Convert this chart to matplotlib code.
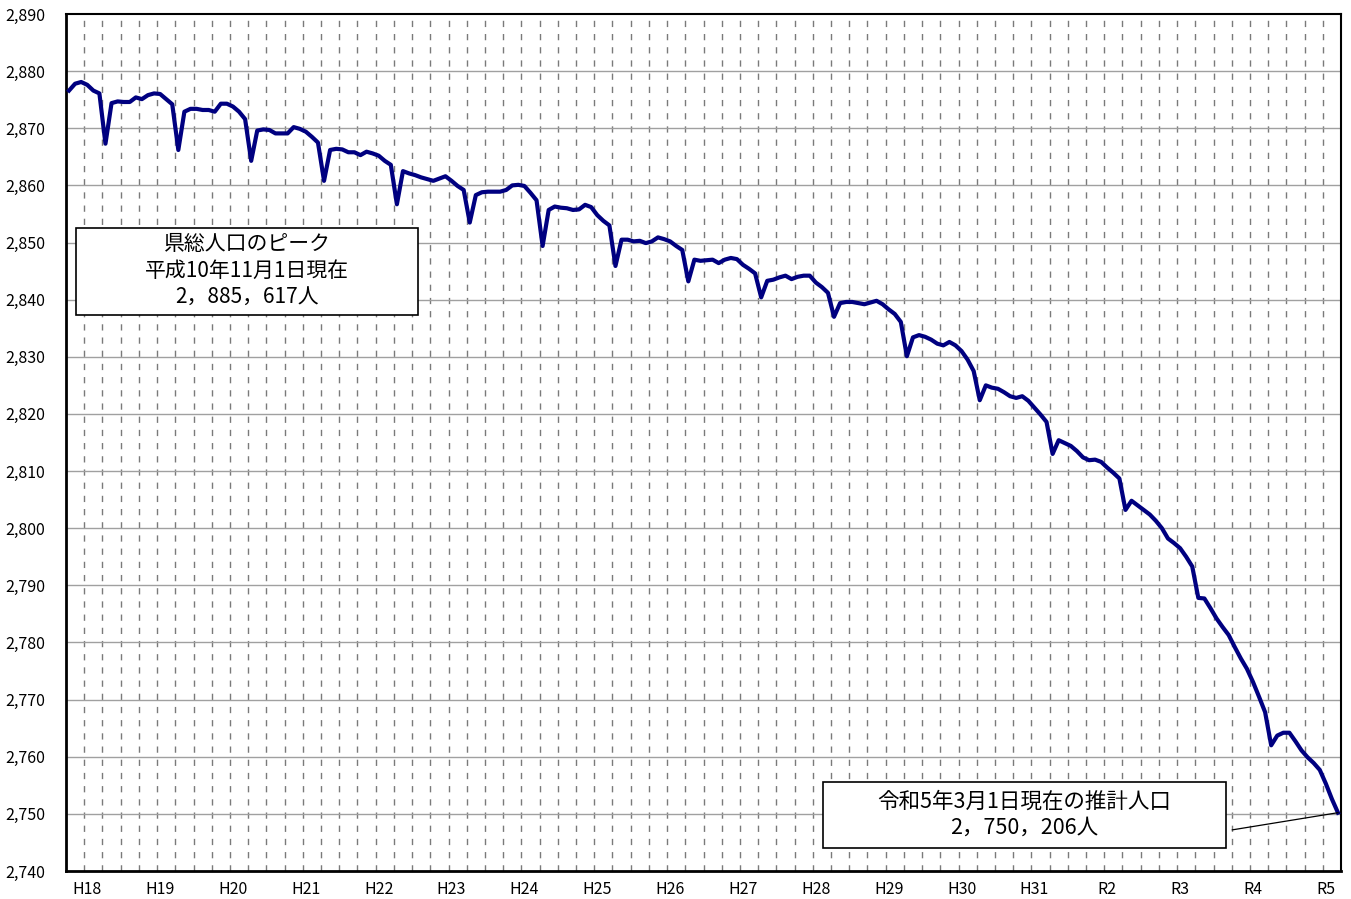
import numpy as np
import matplotlib.pyplot as plt
from matplotlib.patches import Rectangle

plt.rcParams['font.family'] = ['Noto Sans CJK JP', 'DejaVu Sans']

# 推計人口（千人）: 平成17年10月1日 ～ 令和5年3月1日（毎月1日現在）
pop_2005 = [2876.6, 2877.8, 2878.1]
pop_2006 = [2877.6, 2876.6, 2876.1, 2867.3, 2874.4, 2874.7, 2874.6, 2874.6, 2875.4, 2875.1, 2875.8, 2876.1]
pop_2007 = [2876.0, 2875.1, 2874.2, 2866.2, 2872.9, 2873.4, 2873.4, 2873.2, 2873.2, 2872.9, 2874.3, 2874.3]
pop_2008 = [2873.8, 2872.9, 2871.6, 2864.3, 2869.6, 2869.8, 2869.7, 2869.1, 2869.1, 2869.1, 2870.2, 2869.9]
pop_2009 = [2869.4, 2868.5, 2867.5, 2860.8, 2866.2, 2866.4, 2866.3, 2865.8, 2865.8, 2865.3, 2865.9, 2865.6]
pop_2010 = [2865.2, 2864.3, 2863.6, 2856.7, 2862.5, 2862.1, 2861.8, 2861.4, 2861.1, 2860.8, 2861.2, 2861.6]
pop_2011 = [2860.8, 2859.9, 2859.2, 2853.5, 2858.3, 2858.8, 2858.9, 2858.9, 2858.9, 2859.2, 2860.0, 2860.1]
pop_2012 = [2859.9, 2858.7, 2857.4, 2849.4, 2855.7, 2856.3, 2856.1, 2856.0, 2855.7, 2855.8, 2856.6, 2856.2]
pop_2013 = [2854.8, 2853.8, 2853.0, 2845.9, 2850.5, 2850.5, 2850.2, 2850.3, 2849.9, 2850.2, 2850.9, 2850.6]
pop_2014 = [2850.2, 2849.4, 2848.7, 2843.2, 2847.0, 2846.8, 2846.9, 2847.0, 2846.4, 2847.0, 2847.3, 2847.1]
pop_2015 = [2846.1, 2845.4, 2844.6, 2840.4, 2843.3, 2843.5, 2843.9, 2844.2, 2843.6, 2844.0, 2844.2, 2844.2]
pop_2016 = [2843.0, 2842.2, 2841.2, 2837.0, 2839.4, 2839.6, 2839.6, 2839.4, 2839.2, 2839.5, 2839.8, 2839.2]
pop_2017 = [2838.3, 2837.5, 2836.1, 2830.1, 2833.4, 2833.8, 2833.5, 2833.0, 2832.3, 2832.0, 2832.6, 2832.0]
pop_2018 = [2831.0, 2829.5, 2827.5, 2822.4, 2825.0, 2824.6, 2824.4, 2823.8, 2823.1, 2822.8, 2823.1, 2822.3]
pop_2019 = [2821.1, 2819.9, 2818.6, 2813.0, 2815.4, 2814.9, 2814.4, 2813.5, 2812.4, 2811.9, 2812.0, 2811.6]
pop_2020 = [2810.6, 2809.7, 2808.7, 2803.2, 2804.8, 2804.0, 2803.2, 2802.4, 2801.3, 2800.0, 2798.2, 2797.4]
pop_2021 = [2796.5, 2795.0, 2793.3, 2787.8, 2787.7, 2786.0, 2784.2, 2782.7, 2781.3, 2779.2, 2777.2, 2775.4]
pop_2022 = [2773.1, 2770.5, 2767.8, 2762.0, 2763.7, 2764.2, 2764.2, 2762.7, 2761.1, 2759.9, 2758.9, 2757.7]
pop_2023 = [2755.3, 2752.6, 2750.206]

pop = (pop_2005 + pop_2006 + pop_2007 + pop_2008 + pop_2009 + pop_2010 + pop_2011 + pop_2012
       + pop_2013 + pop_2014 + pop_2015 + pop_2016 + pop_2017 + pop_2018 + pop_2019 + pop_2020
       + pop_2021 + pop_2022 + pop_2023)

year_labels = ['H18', 'H19', 'H20', 'H21', 'H22', 'H23', 'H24', 'H25', 'H26', 'H27',
               'H28', 'H29', 'H30', 'H31', 'R2', 'R3', 'R4', 'R5']

x = np.arange(len(pop))

fig = plt.figure(figsize=(13.51, 8.99), dpi=100)
ax = fig.add_axes([66/1351, 1 - 871/899, 1275/1351, 857/899])

# 縦の点線（3か月ごと）
for b in np.arange(3, len(pop), 3):
    ax.axvline(b - 0.5, color='#7a7a7a', lw=1.0, ls=(0, (4.5, 5)), zorder=1)
# 横の目盛線
for yv in range(2750, 2890, 10):
    ax.axhline(yv, color='#a0a0a0', lw=1.0, zorder=1)

ax.plot(x, pop, color='#000080', lw=3.0, zorder=3, solid_joinstyle='round')

ax.set_xlim(-0.5, len(pop) - 0.5)
ax.set_ylim(2740, 2890)
ax.set_yticks(range(2740, 2891, 10))
ax.set_yticklabels([f'{v:,}' for v in range(2740, 2891, 10)], fontsize=11.5)
ax.set_xticks(np.arange(3, len(pop), 12))
ax.set_xticklabels(year_labels, fontsize=11.5)
ax.tick_params(axis='y', length=0, pad=15)
ax.tick_params(axis='x', length=0, pad=7)
for s in ['left', 'bottom']:
    ax.spines[s].set_linewidth(2.0)
for s in ['top', 'right']:
    ax.spines[s].set_linewidth(1.5)

# 注記ボックス
box1 = Rectangle((10/1275, 556/857), 342/1275, 87/857, transform=ax.transAxes,
                 facecolor='white', edgecolor='black', lw=1.2, zorder=4)
ax.add_patch(box1)
for t, yy in zip(['県総人口のピーク', '平成10年11月1日現在', '2，885，617人'], [244, 271, 298]):
    ax.text(181/1275, (871 - yy)/857, t, transform=ax.transAxes, ha='center', va='center',
            fontsize=15, zorder=5)

box2 = Rectangle((757/1275, 23/857), 403/1275, 66/857, transform=ax.transAxes,
                 facecolor='white', edgecolor='black', lw=1.2, zorder=4)
ax.add_patch(box2)
for t, yy in zip(['令和5年3月1日現在の推計人口', '2，750，206人'], [802, 828]):
    ax.text(958.5/1275, (871 - yy)/857, t, transform=ax.transAxes, ha='center', va='center',
            fontsize=15.5, zorder=5)

# 引き出し線
ax.plot([191.6, x[-1]], [2747.2, pop[-1]], color='black', lw=0.9, zorder=4)

plt.savefig('out.png', dpi=100)
